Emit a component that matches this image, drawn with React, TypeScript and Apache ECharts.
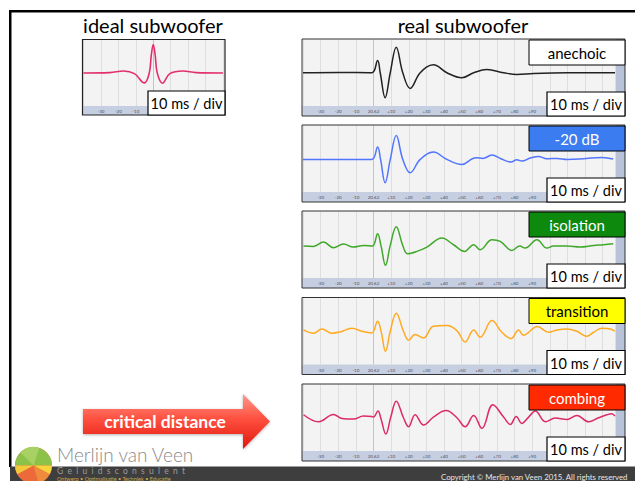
import React, { useEffect, useRef } from 'react';
import * as echarts from 'echarts';

const FONT = 'Lato, "Open Sans", "DejaVu Sans", sans-serif';

// waveform data: [time in ms relative to arrival, normalised amplitude]
const ideal: [number, number][] = [
  [-40, 0], [-25, 0.01], [-17, 0.06], [-10.8, -0.02], [-5.1, -0.3], [-2.3, 0], [-1.1, 0.55], [0, 0.86],
  [1.1, 0.55], [2.3, 0], [5.3, -0.31], [9.5, -0.02], [17, 0.06], [24.6, 0.01], [40, 0],
];
const anechoic: [number, number][] = [
  [-40, 0], [-20, 0.01], [-1, 0], [2.3, 0.37], [3.8, 0], [6.6, -0.75], [9.5, 0], [12.9, 0.77], [16.6, 0],
  [20.8, -0.47], [26.5, 0], [34, 0.24], [41.6, 0], [50.1, -0.15], [56.8, 0], [64.3, 0.095], [73.8, 0],
  [81.3, -0.05], [90.8, -0.02], [110, 0], [137, 0],
];
const minus20: [number, number][] = [
  [-40, -0.02], [-20, -0.02], [-1, -0.02], [2.3, 0.35], [4, -0.02], [6.6, -0.72], [9.5, -0.02], [12.9, 0.7],
  [16.6, -0.02], [20.8, -0.42], [26.5, -0.02], [34, 0.2], [41.6, -0.02], [50.1, -0.17], [56, 0], [58.6, 0.03],
  [62, 0.01], [67.2, 0.11], [72.2, 0], [78, -0.1], [81.3, -0.03], [84, -0.07], [89, 0.02], [93.6, 0.07],
  [98.4, 0], [104, 0.01], [110, -0.02], [119, 0], [129.6, 0.04], [136, -0.01],
];
const isolation: [number, number][] = [
  [-39.7, -0.04], [-34, -0.05], [-28.4, 0.08], [-22.7, -0.09], [-17, 0.02], [-11.4, -0.07], [-5.7, -0.02],
  [-0.6, -0.04], [2.3, 0.33], [4.3, -0.04], [6.8, -0.62], [9.5, -0.02], [12.9, 0.54], [16.6, -0.02],
  [19.3, -0.27], [24.6, -0.2], [30.3, -0.07], [38.8, 0.2], [45.4, 0], [51.6, -0.2], [56.8, 0], [60.5, -0.15],
  [67.2, 0.15], [71.9, 0.1], [78.5, -0.17], [83, -0.04], [86, -0.1], [92.7, 0.15], [98.4, -0.1], [102.1, -0.04],
  [109.7, -0.04], [117.3, -0.07], [124.9, -0.02], [130.5, 0], [136, 0.03],
];
const transition: [number, number][] = [
  [-39.7, 0.04], [-34, -0.06], [-29.3, 0.07], [-23.6, -0.06], [-18.9, -0.02], [-12.3, 0.09], [-6.6, 0],
  [-1, -0.05], [2.3, 0.3], [4.3, 0], [6.8, -0.6], [9.5, 0], [12.9, 0.54], [17, 0], [19.9, -0.27], [23.6, -0.1],
  [28.4, -0.2], [34, 0.15], [41.6, 0.17], [47.3, 0.02], [52, -0.32], [56.8, 0.04], [60.5, -0.18], [67.2, 0.32],
  [72.8, -0.03], [78, -0.22], [82.3, 0.04], [85, -0.12], [93, 0.14], [99.3, -0.03], [104, 0.04], [109.7, 0.07],
  [115.4, 0], [121, -0.15], [124.9, -0.03], [129.6, 0.09], [134.3, 0.07], [137, 0],
];
const combing: [number, number][] = [
  [-39.7, 0.09], [-31.2, -0.12], [-22.7, 0.1], [-18, -0.02], [-11.4, -0.04], [-5.7, 0.05], [-1, 0.04],
  [0, 0.02], [2.5, 0.2], [4.2, -0.02], [7, -0.49], [9.8, 0.02], [12.9, 0.5], [17, 0], [19.9, -0.27],
  [23.6, 0.09], [28.4, -0.22], [34, 0.02], [41.2, 0.22], [47.3, 0], [52, -0.27], [56.8, 0.07], [61.5, -0.32],
  [67.7, 0.39], [73.8, 0.02], [77.6, -0.2], [81, 0.04], [84.1, -0.17], [88, 0.02], [91.8, 0.2], [97.5, -0.12],
  [103.1, -0.01], [109.7, -0.05], [115.4, 0.07], [122, -0.12], [127.7, 0], [132.4, 0.09], [135.2, 0.12],
  [137, 0.05],
];

const realSeries = [anechoic, minus20, isolation, transition, combing];
const realLabels = ['anechoic', '-20 dB', 'isolation', 'transition', 'combing'];
const scaleLabel = '10 ms / div';
const titles = ['ideal subwoofer', 'real subwoofer'];
const arrowLabel = 'critical distance';

// styles
const lineColors = ['#222222', '#5275ff', '#3fa82a', '#ffaa22', '#dd2a68'];
const idealColor = '#e3306c';
const boxFills = ['#ffffff', '#3b7cf0', '#0d890d', '#ffff00', '#ff2a00'];
const boxTextColors = ['#000000', '#ffffff', '#ffffff', '#000000', '#ffffff'];
const panelTops = [39, 125, 211, 297.5, 384];

export default function App() {
  const ref = useRef<HTMLDivElement>(null);
  useEffect(() => {
    const chart = echarts.init(ref.current!, null, { renderer: 'svg' });

    const grids: any[] = [];
    const xAxes: any[] = [];
    const yAxes: any[] = [];
    const series: any[] = [];
    const graphics: any[] = [];

    const splitColors = (min: number, max: number) => {
      const arr: string[] = [];
      for (let v = min; v <= max; v += 10) arr.push(v === 0 ? '#c4c4c4' : '#dedede');
      return arr;
    };
    const fmt = (limit: number) => (v: number) => {
      if (v > limit) return '';
      if (v === 0) return '20.62';
      return v > 0 ? '+' + v : String(v);
    };
    const addAxis = (i: number, max: number, limit: number) => {
      xAxes.push({
        type: 'value', gridIndex: i, min: -40, max, interval: 10,
        axisLine: { show: false }, axisTick: { show: false },
        splitLine: { show: true, lineStyle: { color: splitColors(-40, max), width: 1 } },
        axisLabel: {
          fontSize: 4.5, color: '#4a4f60', margin: 3, showMinLabel: false, showMaxLabel: false,
          fontFamily: FONT, formatter: fmt(limit),
        },
      });
      yAxes.push({ type: 'value', gridIndex: i, min: -1, max: 1, show: false, splitLine: { show: false } });
    };
    const text = (t: string, x: number, y: number, size: number, fill: string, extra: any = {}) => ({
      type: 'text', x, y, z: extra.z ?? 20,
      style: {
        text: t, fill, fontSize: size, fontFamily: FONT, fontWeight: extra.weight ?? 'normal',
        textAlign: extra.align ?? 'center', align: extra.align ?? 'center',
        textVerticalAlign: 'middle', verticalAlign: 'middle',
        ...(extra.style || {}),
      },
    });

    // ideal panel
    {
      const top = 39.5, left = 82.5, right = 225, bottom = 115;
      grids.push({ left: 83.5, top: top + 0.5, width: 139.5, height: 66, containLabel: false });
      addAxis(0, 40, -1);
      series.push({
        type: 'line', xAxisIndex: 0, yAxisIndex: 0, data: ideal, smooth: 0.4, showSymbol: false, symbol: 'none',
        lineStyle: { color: idealColor, width: 1.6 }, itemStyle: { color: idealColor }, z: 3, silent: true,
      });
      graphics.push({ type: 'rect', z: -10, shape: { x: left, y: top, width: right - left, height: bottom - top }, style: { fill: '#f3f3f3' } });
      graphics.push({ type: 'rect', z: -9, shape: { x: left, y: 106, width: right - left, height: bottom - 106 }, style: { fill: '#c6cfe1' } });
      graphics.push({ type: 'rect', z: 10, shape: { x: left, y: top, width: right - left, height: bottom - top }, style: { fill: 'none', stroke: '#222', lineWidth: 1.2 } });
      graphics.push({ type: 'rect', z: 20, shape: { x: 148, y: 91, width: 77, height: 24 }, style: { fill: '#fff', stroke: '#000', lineWidth: 1.2 } });
      graphics.push(text(scaleLabel, 186.5, 103.5, 14.5, '#000'));
    }

    // real panels
    panelTops.forEach((top, k) => {
      const i = k + 1;
      const left = 302, right = 625, h = 77;
      grids.push({ left: 303, top: top + 0.5, width: 312, height: 66.5, containLabel: false });
      addAxis(i, 137, 90);
      series.push({
        type: 'line', xAxisIndex: i, yAxisIndex: i, data: realSeries[k], smooth: 0.4, showSymbol: false,
        symbol: 'none', lineStyle: { color: lineColors[k], width: 1.5 }, itemStyle: { color: lineColors[k] },
        z: 3, silent: true,
      });
      graphics.push({ type: 'rect', z: -10, shape: { x: left, y: top, width: right - left, height: h }, style: { fill: '#f3f3f3' } });
      graphics.push({ type: 'rect', z: -9, shape: { x: left, y: top + 67, width: right - left, height: 10 }, style: { fill: '#c6cfe1' } });
      graphics.push({ type: 'rect', z: -8, shape: { x: 615, y: top, width: 10, height: h }, style: { fill: '#b8c3d9' } });
      graphics.push({ type: 'rect', z: 10, shape: { x: left, y: top, width: right - left, height: h }, style: { fill: 'none', stroke: '#333', lineWidth: 1 } });
      graphics.push({ type: 'rect', z: 20, shape: { x: 529, y: top + 1, width: 96, height: 25 }, style: { fill: boxFills[k], stroke: '#000', lineWidth: 1 } });
      graphics.push(text(realLabels[k], 577, top + 13.5, 15, boxTextColors[k]));
      graphics.push({ type: 'rect', z: 20, shape: { x: 547, y: top + 53, width: 78, height: 24 }, style: { fill: '#fff', stroke: '#000', lineWidth: 1.2 } });
      graphics.push(text(scaleLabel, 586, top + 65.5, 14.5, '#000'));
    });

    // frame
    graphics.push({ type: 'rect', z: 5, shape: { x: 9, y: 10, width: 626, height: 2.5 }, style: { fill: '#000' } });
    graphics.push({ type: 'rect', z: 5, shape: { x: 9, y: 10, width: 2.5, height: 457 }, style: { fill: '#000' } });

    // titles
    graphics.push(text(titles[0], 153, 25, 20, '#000'));
    graphics.push(text(titles[1], 463, 25, 20, '#000'));

    // arrow
    graphics.push({
      type: 'polygon', z: 15,
      shape: { points: [[83, 409], [243, 409], [243, 394], [270, 421.5], [243, 449], [243, 434], [83, 434]] },
      style: {
        fill: {
          type: 'linear', x: 0, y: 0, x2: 0, y2: 1,
          colorStops: [
            { offset: 0, color: '#ff9a8c' }, { offset: 0.45, color: '#ff5040' }, { offset: 1, color: '#e0170c' },
          ],
        },
        shadowBlur: 3, shadowColor: 'rgba(0,0,0,0.3)', shadowOffsetY: 1,
      },
    });
    graphics.push(text(arrowLabel, 165, 421.5, 17.5, '#fff', { weight: 'bold', z: 16 }));

    // footer band
    graphics.push({ type: 'rect', z: 5, shape: { x: 10, y: 466.5, width: 625, height: 15 }, style: { fill: '#3e3e3e' } });
    graphics.push(text('Copyright © Merlijn van Veen 2015. All rights reserved', 441, 476.5, 7.8, '#e6e6e6', { align: 'left' }));

    // logo
    const cx = 33.5, cy = 465.5, r = 18.5;
    graphics.push({ type: 'circle', z: 21, shape: { cx, cy, r }, style: { fill: '#ec6a3a' } });
    graphics.push({ type: 'sector', z: 22, shape: { cx, cy, r, r0: 0, startAngle: Math.PI, endAngle: Math.PI * 2 }, style: { fill: '#8cc24a' } });
    graphics.push({ type: 'sector', z: 22, shape: { cx, cy, r, r0: 0, startAngle: Math.PI * 1.25, endAngle: Math.PI * 1.6 }, style: { fill: '#a7d163' } });
    graphics.push({ type: 'sector', z: 22, shape: { cx, cy, r, r0: 0, startAngle: 0, endAngle: 0.5 }, style: { fill: '#f5d43c' } });
    graphics.push({ type: 'sector', z: 22, shape: { cx, cy, r, r0: 0, startAngle: Math.PI - 0.5, endAngle: Math.PI }, style: { fill: '#f2c93a' } });
    graphics.push({ type: 'sector', z: 22, shape: { cx, cy, r, r0: 0, startAngle: 0.5, endAngle: 1.3 }, style: { fill: '#f08a3c' } });
    graphics.push(text('Merlijn van Veen', 57, 454, 19, '#8a8a8a', { align: 'left', z: 22, weight: 300 }));
    graphics.push(text('G\u2002e\u2002l\u2002u\u2002i\u2002d\u2002s\u2002c\u2002o\u2002n\u2002s\u2002u\u2002l\u2002e\u2002n\u2002t', 57, 470.5, 8.5, '#9c9c9c', { align: 'left', z: 22 }));
    graphics.push(text('Ontwerp • Optimalisatie • Techniek • Educatie', 57, 478.5, 5.5, '#c9a64a', { align: 'left', z: 22 }));

    chart.setOption({
      animation: false,
      backgroundColor: '#ffffff',
      grid: grids,
      xAxis: xAxes,
      yAxis: yAxes,
      series,
      graphic: { elements: graphics },
    });
    return () => chart.dispose();
  }, []);
  return <div ref={ref} style={{ position: 'fixed', left: 0, top: 0, width: 635, height: 481, background: '#fff' }} />;
}
